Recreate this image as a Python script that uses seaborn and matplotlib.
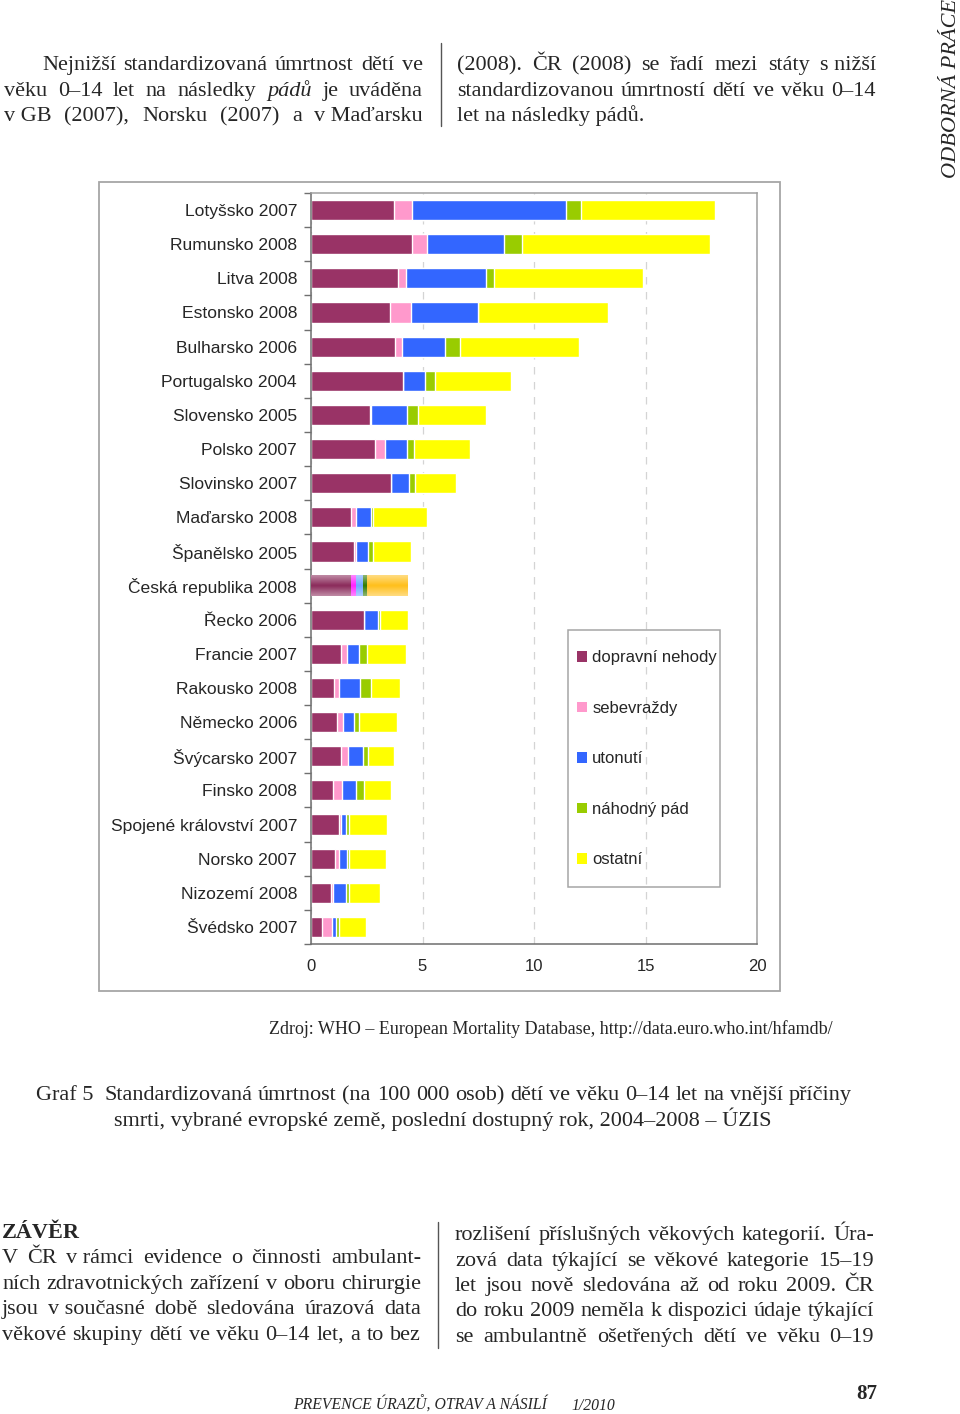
import numpy as np
import pandas as pd
import matplotlib
matplotlib.use('Agg')
import matplotlib.pyplot as plt
import seaborn as sns
from matplotlib.patches import Patch, Rectangle
from matplotlib.lines import Line2D
from matplotlib.colors import LinearSegmentedColormap

# data (per 100 000 children 0-14)
zeme = ['Lotyšsko 2007', 'Rumunsko 2008', 'Litva 2008', 'Estonsko 2008', 'Bulharsko 2006',
        'Portugalsko 2004', 'Slovensko 2005', 'Polsko 2007', 'Slovinsko 2007', 'Maďarsko 2008',
        'Španělsko 2005', 'Česká republika 2008', 'Řecko 2006', 'Francie 2007', 'Rakousko 2008',
        'Německo 2006', 'Švýcarsko 2007', 'Finsko 2008', 'Spojené království 2007', 'Norsko 2007',
        'Nizozemí 2008', 'Švédsko 2007']
dopravni = [3.70, 4.54, 3.90, 3.54, 3.78, 4.13, 2.63, 2.87, 3.60, 1.79, 1.91, 1.78, 2.37, 1.34,
            1.01, 1.18, 1.36, 1.00, 1.25, 1.07, 0.88, 0.51]
sebevrazdy = [0.85, 0.68, 0.36, 0.95, 0.30, 0.00, 0.06, 0.43, 0.00, 0.22, 0.10, 0.23, 0.00, 0.26,
              0.23, 0.24, 0.31, 0.37, 0.11, 0.18, 0.12, 0.43]
utonuti = [6.88, 3.42, 3.58, 3.01, 1.94, 0.96, 1.61, 1.00, 0.79, 0.66, 0.54, 0.30, 0.62, 0.55,
           0.95, 0.49, 0.66, 0.66, 0.22, 0.35, 0.55, 0.18]
pad = [0.66, 0.84, 0.37, 0.00, 0.64, 0.48, 0.49, 0.31, 0.28, 0.11, 0.24, 0.20, 0.11, 0.36,
       0.50, 0.24, 0.22, 0.34, 0.12, 0.12, 0.17, 0.12]
ostatni = [6.03, 8.39, 6.70, 5.84, 5.36, 3.39, 3.07, 2.54, 1.82, 2.44, 1.69, 1.82, 1.23, 1.74,
           1.32, 1.69, 1.17, 1.23, 1.72, 1.64, 1.37, 1.21]
pricina = ['dopravní nehody', 'sebevraždy', 'utonutí', 'náhodný pád', 'ostatní']
barvy = ['#993366', '#FF99CC', '#3366FF', '#99CC00', '#FFFF00']
cz_barvy = ['#8a2a5a', '#ff22ff', '#6fa8ff', '#2f7a00', '#ffbf1a']
x_ticks = [0, 5, 10, 15, 20]

W, H = 960, 1414
def fx(x):
    return x / W
def fy(y):
    return 1 - y / H

sans = ['Liberation Sans', 'DejaVu Sans']
serif = ['Liberation Serif', 'DejaVu Serif']

sns.set_style('white')
plt.rcParams['font.family'] = sans

fig = plt.figure(figsize=(W / 100, H / 100), dpi=100)
renderer = fig.canvas.get_renderer()

# chart frame
fig.add_artist(Rectangle((fx(99), fy(991)), fx(780) - fx(99), fy(182) - fy(991),
                         transform=fig.transFigure, fill=False, edgecolor='#a6a6a6', lw=1.3))

ax = fig.add_axes([fx(311), fy(944), fx(757) - fx(311), fy(193) - fy(944)])

df = pd.DataFrame({'zeme': zeme, 'dopravni': dopravni, 'sebevrazdy': sebevrazdy,
                   'utonuti': utonuti, 'pad': pad, 'ostatni': ostatni})
cols = ['dopravni', 'sebevrazdy', 'utonuti', 'pad', 'ostatni']
cum = df[cols].cumsum(axis=1)
cum['zeme'] = df['zeme']
cz = 'Česká republika 2008'
for k in reversed(range(5)):
    pal = {z: (cz_barvy[k] if z == cz else barvy[k]) for z in zeme}
    sns.barplot(data=cum, y='zeme', x=cols[k], hue='zeme', palette=pal, legend=False,
                dodge=False, orient='h', width=0.59, saturation=1, ax=ax)

# glossy look of the Czech bar
i_cz = zeme.index(cz)
lefts = [0] + list(cum.loc[i_cz, cols[:-1]])
rights = list(cum.loc[i_cz, cols])
for k in range(5):
    if rights[k] - lefts[k] <= 0:
        continue
    edge = tuple(0.55 * np.array(matplotlib.colors.to_rgb(cz_barvy[k])) + 0.45)
    cmap = LinearSegmentedColormap.from_list('g', [edge, cz_barvy[k], edge])
    grad = np.linspace(0, 1, 50).reshape(-1, 1)
    ax.imshow(grad, extent=(lefts[k], rights[k], i_cz + 0.295, i_cz - 0.295),
              aspect='auto', cmap=cmap, zorder=3, interpolation='bicubic')

ax.set_xlim(0, 20)
ax.set_ylim(len(zeme) - 0.5, -0.5)
ax.set_xlabel('')
ax.set_ylabel('')
ax.set_xticks(x_ticks)
ax.set_xticklabels([str(t) for t in x_ticks], fontsize=12)
ax.set_yticks(range(len(zeme)))
ax.set_yticklabels(zeme, fontsize=12.6)
ax.set_yticks(np.arange(-0.5, len(zeme)), minor=True)
ax.tick_params(axis='y', which='major', length=0, pad=10)
ax.tick_params(axis='y', which='minor', length=5, color='#707070', width=1, left=True)
ax.tick_params(axis='x', length=0, pad=11)
ax.grid(axis='x', linestyle=(0, (6, 6)), color='#d4d4d4', lw=0.9)
ax.set_axisbelow(True)
for s in ['top', 'right']:
    ax.spines[s].set_color('#a0a0a0')
for s in ['left', 'bottom']:
    ax.spines[s].set_color('#6e6e6e')
for s in ax.spines.values():
    s.set_linewidth(1.1)
    s.set_visible(True)

# legend with its own box
fig.add_artist(Rectangle((fx(568), fy(887)), fx(720) - fx(568), fy(630) - fy(887),
                         transform=fig.transFigure, fill=False, edgecolor='#a6a6a6', lw=1.1))
handles = [Patch(facecolor=c, edgecolor='none') for c in barvy]
fig.legend(handles, pricina, loc='upper left', bbox_to_anchor=(fx(574), fy(647)),
           fontsize=12, frameon=False, handlelength=0.6, handleheight=0.6,
           handletextpad=0.3, labelspacing=2.13, borderpad=0.2, borderaxespad=0)


def justify(words, x0, x1, y, size=16, styles=None, weight='normal'):
    texts = []
    for n, w in enumerate(words):
        st = styles[n] if styles else 'normal'
        texts.append(fig.text(fx(x0), fy(y), w, fontsize=size, family=serif,
                              style=st, weight=weight, va='baseline', ha='left'))
    widths = [t.get_window_extent(renderer).width for t in texts]
    gap = (x1 - x0 - sum(widths)) / max(len(words) - 1, 1)
    x = x0
    for t, w in zip(texts, widths):
        t.set_x(fx(x))
        x += w + gap


def plain(s, x, y, size=16, **kw):
    fig.text(fx(x), fy(y), s, fontsize=size, family=serif, va='baseline', ha='left', **kw)


# upper text columns
justify('Nejnižší standardizovaná úmrtnost dětí ve'.split(), 42, 423, 70)
w2 = 'věku 0–14 let na následky pádů je uváděna'.split()
justify(w2, 4, 423, 96, styles=['italic' if w == 'pádů' else 'normal' for w in w2])
justify(['v GB', '(2007),', 'Norsku', '(2007)', 'a', 'v Maďarsku'], 4, 423, 121)
justify(['(2008).', 'ČR', '(2008)', 'se', 'řadí', 'mezi', 'státy', 's nižší'], 457, 876, 70)
justify('standardizovanou úmrtností dětí ve věku 0–14'.split(), 457, 876, 96)
plain('let na následky pádů.', 457, 121)
fig.add_artist(Line2D([fx(441), fx(441)], [fy(43), fy(126)], color='#555555', lw=1,
                      transform=fig.transFigure))

fig.text(fx(951), fy(178), 'ODBORNÁ PRÁCE', rotation=90, fontsize=16, family=serif,
         style='italic', ha='center', va='bottom')

# source and caption
plain('Zdroj: WHO – European Mortality Database, http://data.euro.who.int/hfamdb/', 269, 1034, size=13)
plain('Graf 5', 36, 1100)
justify('Standardizovaná úmrtnost (na 100 000 osob) dětí ve věku 0–14 let na vnější příčiny'.split(),
        104, 852, 1100)
plain('smrti, vybrané evropské země, poslední dostupný rok, 2004–2008 – ÚZIS', 114, 1126)

# lower text columns
plain('ZÁVĚR', 2, 1238, weight='bold')
justify(['V', 'ČR', 'v rámci', 'evidence', 'o', 'činnosti', 'ambulant-'], 2, 421, 1263)
justify('ních zdravotnických zařízení v oboru chirurgie'.split(), 2, 421, 1289)
justify(['jsou', 'v současné', 'době', 'sledována', 'úrazová', 'data'], 2, 421, 1314)
justify('věkové skupiny dětí ve věku 0–14 let, a to bez'.split(), 2, 421, 1340)
justify('rozlišení příslušných věkových kategorií. Úra-'.split(), 455, 874, 1240)
justify('zová data týkající se věkové kategorie 15–19'.split(), 455, 874, 1266)
justify('let jsou nově sledována až od roku 2009. ČR'.split(), 455, 874, 1291)
justify('do roku 2009 neměla k dispozici údaje týkající'.split(), 455, 874, 1316)
justify('se ambulantně ošetřených dětí ve věku 0–19'.split(), 455, 874, 1342)
fig.add_artist(Line2D([fx(438), fx(438)], [fy(1222), fy(1348)], color='#555555', lw=1,
                      transform=fig.transFigure))

# footer
plain('PREVENCE ÚRAZŮ, OTRAV A NÁSILÍ', 293, 1410, size=11.3, style='italic')
plain('1/2010', 571, 1410, size=11.3, style='italic')
plain('87', 856, 1399, size=15, weight='bold')

fig.savefig('out.png', dpi=100)
